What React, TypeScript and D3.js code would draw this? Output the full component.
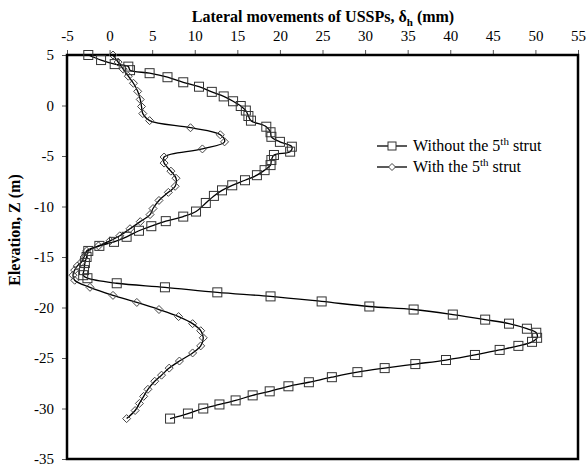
import React, { useRef, useEffect } from 'react'
import * as d3 from 'd3'

// lateral movement (mm) and elevation (m)
const withoutX = [-2.5, -1.0, 0.6, 2.2, 2.4, 4.7, 6.8, 8.65, 10.5, 12.0, 13.4, 14.5, 15.4, 16.0, 16.3, 16.6, 18.4, 18.9, 19.0, 20.0, 21.4, 21.2, 19.3, 19.0, 18.9, 18.2, 17.3, 15.9, 14.4, 13.2, 12.25, 11.3, 10.15, 8.65, 6.6, 4.9, 3.45, 2.0, 0.52, -1.2, -2.5, -2.7, -2.9, -3.0, -3.1, -2.6, 0.84, 6.5, 12.65, 18.9, 24.9, 30.5, 35.7, 40.3, 44.1, 46.9, 49.0, 50.1, 50.2, 49.6, 48.0, 45.8, 42.9, 39.5, 35.9, 32.3, 29.1, 26.1, 23.4, 21.0, 18.8, 16.8, 14.8, 12.9, 11.0, 9.2, 7.1]
const withoutZ = [5.0, 4.5, 4.1, 3.85, 3.5, 3.2, 2.8, 2.3, 1.86, 1.35, 0.9, 0.42, -0.05, -0.5, -1.04, -1.5, -2.1, -2.65, -3.1, -3.6, -4.08, -4.57, -4.9, -5.4, -5.9, -6.4, -6.9, -7.4, -7.9, -8.4, -8.95, -9.65, -10.5, -11.0, -11.45, -11.95, -12.4, -13.0, -13.5, -13.9, -14.4, -15.0, -15.6, -16.3, -16.8, -17.1, -17.6, -18.0, -18.5, -18.9, -19.4, -19.9, -20.2, -20.7, -21.2, -21.6, -22.1, -22.5, -23.0, -23.4, -23.8, -24.2, -24.7, -25.2, -25.6, -26.0, -26.4, -26.9, -27.4, -27.8, -28.3, -28.7, -29.2, -29.6, -30.0, -30.5, -31.0]

const withX = [0.4, 1.0, 1.6, 2.2, 2.8, 3.3, 3.6, 3.75, 3.9, 4.7, 9.5, 13.0, 13.5, 10.9, 6.4, 6.4, 7.2, 7.8, 7.7, 6.9, 5.8, 5.1, 4.75, 3.6, 2.4, 1.2, 0.05, -1.3, -2.7, -3.0, -3.3, -3.8, -4.1, -4.3, -4.1, -2.3, 0.4, 3.2, 5.8, 8.1, 9.75, 10.7, 11.0, 10.7, 9.75, 8.2, 7.0, 6.1, 5.3, 4.5, 4.0, 3.5, 3.0, 2.0]
const withZ = [5.0, 4.3, 3.6, 2.9, 2.2, 1.4, 0.6, -0.1, -0.8, -1.5, -2.2, -2.9, -3.6, -4.3, -5.1, -5.7, -6.5, -7.2, -8.0, -8.6, -9.4, -10.2, -10.8, -11.5, -12.2, -12.9, -13.4, -13.9, -14.4, -15.0, -15.5, -15.9, -16.3, -16.8, -17.3, -18.0, -18.8, -19.5, -20.2, -20.9, -21.6, -22.3, -23.0, -23.8, -24.5, -25.3, -26.0, -26.7, -27.3, -28.1, -28.8, -29.5, -30.2, -31.0]

const xTicks = [-5, 0, 5, 10, 15, 20, 25, 30, 35, 40, 45, 50, 55]
const yTicks = [5, 0, -5, -10, -15, -20, -25, -30, -35]

const font = '"Liberation Serif", "Times New Roman", serif'

export default function App() {
  const ref = useRef<SVGSVGElement>(null)

  useEffect(() => {
    const svg = d3.select(ref.current)
    svg.selectAll('*').remove()

    const margin = { top: 55, right: 10, bottom: 9, left: 67 }
    const W = 588, H = 468
    const width = W - margin.left - margin.right
    const height = H - margin.top - margin.bottom

    const x = d3.scaleLinear().domain([-5, 55]).range([margin.left, margin.left + width])
    const y = d3.scaleLinear().domain([5, -35]).range([margin.top, margin.top + height])

    // axes
    const xAxis = svg.append('g')
      .attr('transform', 'translate(0,' + margin.top + ')')
      .call(d3.axisTop(x).tickValues(xTicks).tickSize(5).tickFormat(d3.format('d')))
    xAxis.select('.domain').remove()
    xAxis.selectAll('text').style('font-family', font).style('font-size', '15px').attr('fill', '#000').attr('y', -14)

    const yAxis = svg.append('g')
      .attr('transform', 'translate(' + margin.left + ',0)')
      .call(d3.axisLeft(y).tickValues(yTicks).tickSize(5).tickFormat(d3.format('d')))
    yAxis.select('.domain').remove()
    yAxis.selectAll('text').style('font-family', font).style('font-size', '15px').attr('fill', '#000').attr('x', -13)
    svg.selectAll('.tick line').attr('stroke', '#555')
    svg.selectAll('.tick text').text((d: any) => String(d))

    // frame
    svg.append('rect')
      .attr('x', margin.left).attr('y', margin.top)
      .attr('width', width).attr('height', height)
      .attr('fill', 'none').attr('stroke', '#000').attr('stroke-width', 2.5)

    const line = d3.line<[number, number]>()
      .x(d => x(d[0])).y(d => y(d[1]))
      .curve(d3.curveCatmullRom.alpha(0.5))

    const s1 = withoutX.map((v, i) => [v, withoutZ[i]] as [number, number])
    const s2 = withX.map((v, i) => [v, withZ[i]] as [number, number])

    const plot = svg.append('g')

    plot.append('path').datum(s1).attr('d', line).attr('fill', 'none').attr('stroke', '#000').attr('stroke-width', 1.3)
    plot.append('path').datum(s2).attr('d', line).attr('fill', 'none').attr('stroke', '#000').attr('stroke-width', 1.3)

    // markers
    plot.selectAll('rect.sq').data(s1).enter().append('rect')
      .attr('x', d => x(d[0]) - 4.5).attr('y', d => y(d[1]) - 4.5)
      .attr('width', 9).attr('height', 9)
      .attr('fill', 'none').attr('stroke', '#333').attr('stroke-width', 1)

    const diamond = (cx: number, cy: number, r: number) =>
      'M' + cx + ',' + (cy - r) + 'L' + (cx + r) + ',' + cy + 'L' + cx + ',' + (cy + r) + 'L' + (cx - r) + ',' + cy + 'Z'

    plot.selectAll('path.dm').data(s2).enter().append('path')
      .attr('d', d => diamond(x(d[0]), y(d[1]), 4))
      .attr('fill', 'none').attr('stroke', '#444').attr('stroke-width', 1)

    // legend
    const lg = svg.append('g')
    const items = [
      { label: 'Without the 5', sym: 'sq', yy: 146 },
      { label: 'With the 5', sym: 'dm', yy: 167 },
    ]
    items.forEach(it => {
      lg.append('line').attr('x1', 377).attr('x2', 407).attr('y1', it.yy).attr('y2', it.yy)
        .attr('stroke', '#000').attr('stroke-width', 1.3)
      if (it.sym === 'sq') {
        lg.append('rect').attr('x', 388).attr('y', it.yy - 4).attr('width', 8).attr('height', 8)
          .attr('fill', '#fff').attr('stroke', '#333')
      } else {
        lg.append('path').attr('d', diamond(392, it.yy, 3.5)).attr('fill', '#fff').attr('stroke', '#444')
      }
      const t = lg.append('text').attr('x', 413).attr('y', it.yy + 5)
        .style('font-family', font).style('font-size', '16px').attr('fill', '#000')
      t.append('tspan').text(it.label)
      t.append('tspan').text('th').attr('dy', -6).style('font-size', '11px')
      t.append('tspan').text(' strut').attr('dy', 6)
    })

    // axis titles
    const title = svg.append('text').attr('x', 323).attr('y', 22).attr('text-anchor', 'middle')
      .style('font-family', font).style('font-size', '16px').style('font-weight', 'bold').attr('fill', '#000')
    title.append('tspan').text('Lateral movements of USSPs, δ')
    title.append('tspan').text('h').attr('dy', 4).style('font-size', '11px')
    title.append('tspan').text(' (mm)').attr('dy', -4)

    svg.append('text').attr('transform', 'translate(20,230) rotate(-90)').attr('text-anchor', 'middle')
      .style('font-family', font).style('font-size', '16px').style('font-weight', 'bold').attr('fill', '#000')
      .text('Elevation, Z (m)')
  }, [])

  return (
    <svg ref={ref} width={588} height={468}
      style={{ position: 'absolute', left: 0, top: 0, background: '#fff' }} />
  )
}
